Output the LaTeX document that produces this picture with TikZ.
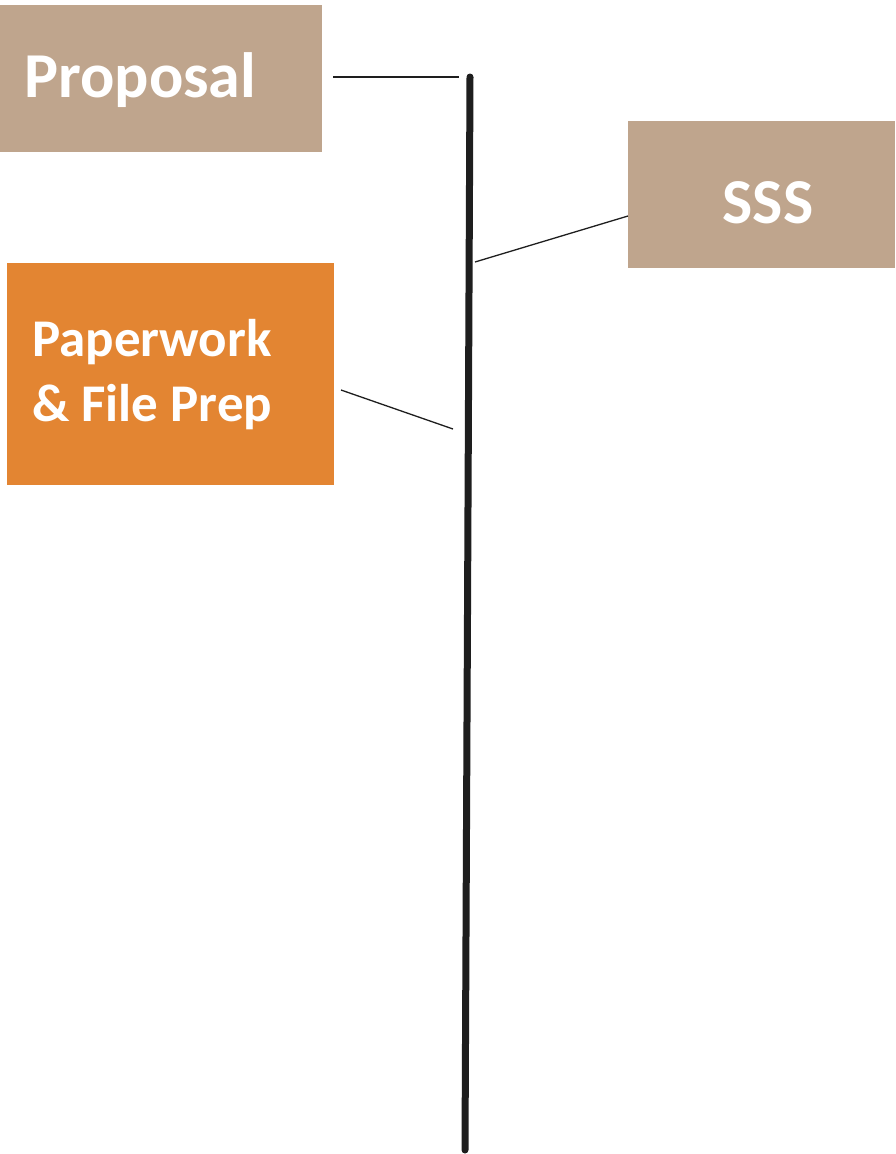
\documentclass[tikz,border=0pt]{standalone}
\usepackage{fontspec}
\setmainfont{Carlito}
\definecolor{sand}{HTML}{BFA58D}
\definecolor{amber}{HTML}{E38532}
\definecolor{ink}{HTML}{1E1E1E}
\begin{document}
\begin{tikzpicture}[x=1pt,y=-1pt,
  card/.style={draw=none, inner sep=0pt, anchor=north west},
  cardtext/.style={text=white, inner sep=0pt, font=\bfseries\fontsize{64}{77}\selectfont},
  smalltext/.style={text=white, inner sep=0pt, align=left, font=\bfseries\fontsize{53}{65}\selectfont},
  tick/.style={draw=ink, line width=1.3pt},
  spine/.style={draw=ink, line width=7pt, line cap=round}]
\useasboundingbox (0,0) rectangle (895,1154);

% timeline spine
\coordinate (top) at (470,77);
\coordinate (bottom) at (465,1150);
\draw[spine] (top) -- (bottom);

% event cards
\node[card, fill=sand, minimum width=322pt, minimum height=147pt] (proposal) at (0,5) {};
\node[cardtext, anchor=base west] (proposaltxt) at (24,97) {Proposal};

\node[card, fill=sand, minimum width=267pt, minimum height=147pt] (sss) at (628,121) {};
\node[cardtext, anchor=base] (ssstxt) at (768,223) {SSS};

\node[card, fill=amber, minimum width=327pt, minimum height=222pt] (paper) at (7,263) {};
\node[smalltext, anchor=base west] (papertxt) at (32,356) {Paperwork};
\node[smalltext, anchor=base west] (papertxtb) at (32,421) {\& File Prep};

% leader lines from cards to the spine
\coordinate (p1) at (333,77);
\coordinate (p2) at (459,77);
\coordinate (s1) at (628,216);
\coordinate (s2) at (475,262);
\coordinate (f1) at (341,390);
\coordinate (f2) at (453,429);
\draw[tick] (p1) -- (p2);
\draw[tick] (s1) -- (s2);
\draw[tick] (f1) -- (f2);
\end{tikzpicture}
\end{document}
